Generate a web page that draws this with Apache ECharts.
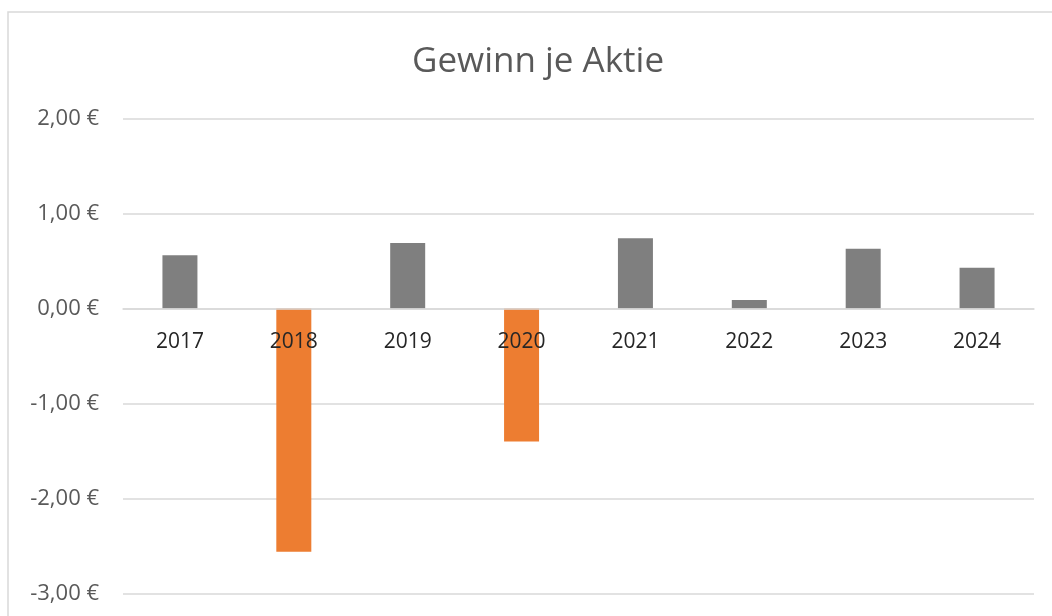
<!DOCTYPE html>
<html>
<head>
<meta charset="utf-8">
<title>Gewinn je Aktie</title>
<script src="https://cdn.jsdelivr.net/npm/echarts@6/dist/echarts.min.js"></script>
<style>
    html, body { margin: 0; padding: 0; background: #fff; }
    #main { width: 1052px; height: 616px; }
</style>
</head>
<body>
<div id="main"></div>
<script>
    // Daten
    var years = ['2017', '2018', '2019', '2020', '2021', '2022', '2023', '2024'];
    var eps = [0.56, -2.56, 0.69, -1.40, 0.74, 0.09, 0.63, 0.43];
    var yMin = -3, yMax = 2, yStep = 1;

    var chart = echarts.init(document.getElementById('main'));

    var gridTop = 118.5, gridBottom = 22.5;
    var plotH = 616 - gridTop - gridBottom;
    // Abstand der Null-Linie vom unteren Rand des Plotbereichs
    var zeroOffset = plotH * (0 - yMin) / (yMax - yMin);

    function euro(v) {
        return v.toFixed(2).replace('.', ',') + ' €';
    }

    var option = {
        animation: false,
        backgroundColor: '#fff',
        textStyle: { fontFamily: '"Open Sans", sans-serif' },
        graphic: [{
            // Rahmen des Diagramms
            type: 'rect',
            shape: { x: 8, y: 12, width: 1100, height: 700 },
            style: { fill: 'none', stroke: '#d9d9d9', lineWidth: 1.5 },
            silent: true
        }],
        title: {
            text: 'Gewinn je Aktie',
            left: 533,
            top: 40,
            textAlign: 'center',
            textStyle: {
                fontFamily: '"Open Sans", sans-serif',
                fontSize: 35,
                fontWeight: 'normal',
                color: '#595959'
            }
        },
        grid: {
            left: 123,
            right: 18,
            top: gridTop,
            bottom: gridBottom,
            containLabel: false,
            outerBoundsMode: 'none'
        },
        xAxis: {
            type: 'category',
            data: years,
            position: 'bottom',
            offset: -zeroOffset,
            z: 5,
            axisLine: { show: true, onZero: false, lineStyle: { color: '#d9d9d9', width: 1.5 } },
            axisTick: { show: false },
            axisLabel: {
                margin: 23,
                fontSize: 21,
                color: '#262626',
                fontFamily: '"Open Sans", sans-serif'
            }
        },
        yAxis: {
            type: 'value',
            min: yMin,
            max: yMax,
            interval: yStep,
            axisLine: { show: false },
            axisTick: { show: false },
            axisLabel: {
                margin: 24,
                fontSize: 22,
                color: '#595959',
                fontFamily: '"Open Sans", sans-serif',
                formatter: euro
            },
            splitLine: { lineStyle: { color: '#d9d9d9', width: 1.5 } }
        },
        series: [{
            name: 'Gewinn je Aktie',
            type: 'bar',
            data: eps,
            barWidth: 35,
            itemStyle: {
                color: function (p) {
                    return p.value < 0 ? '#ed7d31' : '#7f7f7f';
                }
            }
        }]
    };

    chart.setOption(option);
</script>
</body>
</html>
